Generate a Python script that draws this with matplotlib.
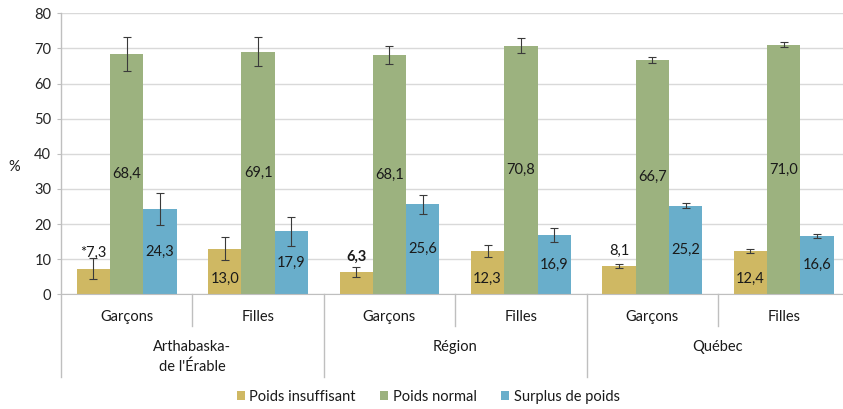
import numpy as np
import matplotlib.pyplot as plt
from matplotlib.patches import Patch

plt.rcParams['font.family'] = ['Lato', 'DejaVu Sans']

# --- data ---
subgroups = ["Garçons", "Filles", "Garçons", "Filles", "Garçons", "Filles"]
groups = ["Arthabaska-\nde l'Érable", "Région", "Québec"]
series = ["Poids insuffisant", "Poids normal", "Surplus de poids"]

insuffisant = [7.3, 13.0, 6.3, 12.3, 8.1, 12.4]
normal = [68.4, 69.1, 68.1, 70.8, 66.7, 71.0]
surplus = [24.3, 17.9, 25.6, 16.9, 25.2, 16.6]

err_insuffisant = [3.0, 3.3, 1.4, 1.8, 0.6, 0.5]
err_normal = [4.8, 4.1, 2.5, 2.1, 0.8, 0.7]
err_surplus = [4.5, 4.1, 2.7, 2.0, 0.7, 0.6]

labels_insuffisant = ["*7,3", "13,0", "6,3", "12,3", "8,1", "12,4"]
labels_normal = ["68,4", "69,1", "68,1", "70,8", "66,7", "71,0"]
labels_surplus = ["24,3", "17,9", "25,6", "16,9", "25,2", "16,6"]

colors = ["#CFB863", "#9CB27F", "#69AECB"]

W, H = 843, 409
fig = plt.figure(figsize=(W / 100, H / 100), dpi=100)
ax = fig.add_axes([61 / W, (H - 294.3) / H, 788.4 / W, 281 / H])

x = np.arange(len(subgroups))
bw = 0.2535
txt = "#1A1A1A"

all_vals = [insuffisant, normal, surplus]
all_errs = [err_insuffisant, err_normal, err_surplus]
all_labels = [labels_insuffisant, labels_normal, labels_surplus]

for i, (vals, errs, labs) in enumerate(zip(all_vals, all_errs, all_labels)):
    xpos = x + (i - 1) * bw
    ax.bar(xpos, vals, width=bw, color=colors[i], zorder=2)
    ax.errorbar(xpos, vals, yerr=errs, fmt="none", ecolor="#3A3A3A",
                elinewidth=0.8, capsize=3.2, capthick=0.8, zorder=3)
    for j, (xp, v, lab) in enumerate(zip(xpos, vals, labs)):
        if i == 0 and j % 2 == 0:
            # small bars: label sits above the bar
            y, va = v + 2.4, "bottom"
        elif i == 0:
            y, va = 2.3, "bottom"
        else:
            y, va = v / 2, "center"
        weight = "bold" if lab == "6,3" else "normal"
        ax.text(xp, y, lab, ha="center", va=va, fontsize=10.5, color=txt,
                fontweight=weight, zorder=4)

ax.set_xlim(-0.5, len(subgroups) - 0.5)
ax.set_ylim(0, 80)
ax.set_yticks(np.arange(0, 81, 10))
ax.tick_params(axis="y", length=3, color="#BFBFBF", labelsize=10.5,
               labelcolor="#262626", pad=4)
ax.set_xticks([])
ax.grid(axis="y", color="#D9D9D9", linewidth=1.0, zorder=0)
ax.set_axisbelow(True)
for side in ["top", "right", "left"]:
    ax.spines[side].set_visible(False)
ax.spines["bottom"].set_color("#BFBFBF")

# hierarchical category axis
tr = ax.get_xaxis_transform()
line_kw = dict(color="#BFBFBF", linewidth=1.0, clip_on=False, transform=tr)
ax.plot([-0.5, -0.5], [1.0, -0.295], **line_kw)
for b in [0.5, 2.5, 4.5]:
    ax.plot([b, b], [0, -0.114], **line_kw)
for b in [1.5, 3.5, 5.5]:
    ax.plot([b, b], [0, -0.295], **line_kw)
for xi, s in zip(x, subgroups):
    ax.text(xi, -0.080, s, transform=tr, ha="center", va="center",
            fontsize=10.5, color=txt)
for k, g in enumerate(groups):
    ax.text(2 * k + 0.5, -0.163, g, transform=tr, ha="center", va="top",
            fontsize=10.5, color=txt, linespacing=1.45)

fig.text(14 / W, 1 - 167 / H, "%", ha="center", va="center",
         fontsize=10.5, color=txt)

handles = [Patch(facecolor=c, label=s) for c, s in zip(colors, series)]
fig.legend(handles=handles, loc="center", bbox_to_anchor=(0.508, 1 - 397 / H),
           ncol=3, frameon=False, fontsize=10.5, handlelength=0.55,
           handleheight=0.55, handletextpad=0.3, columnspacing=1.7,
           labelcolor=txt)

fig.savefig("out.png", dpi=100)
